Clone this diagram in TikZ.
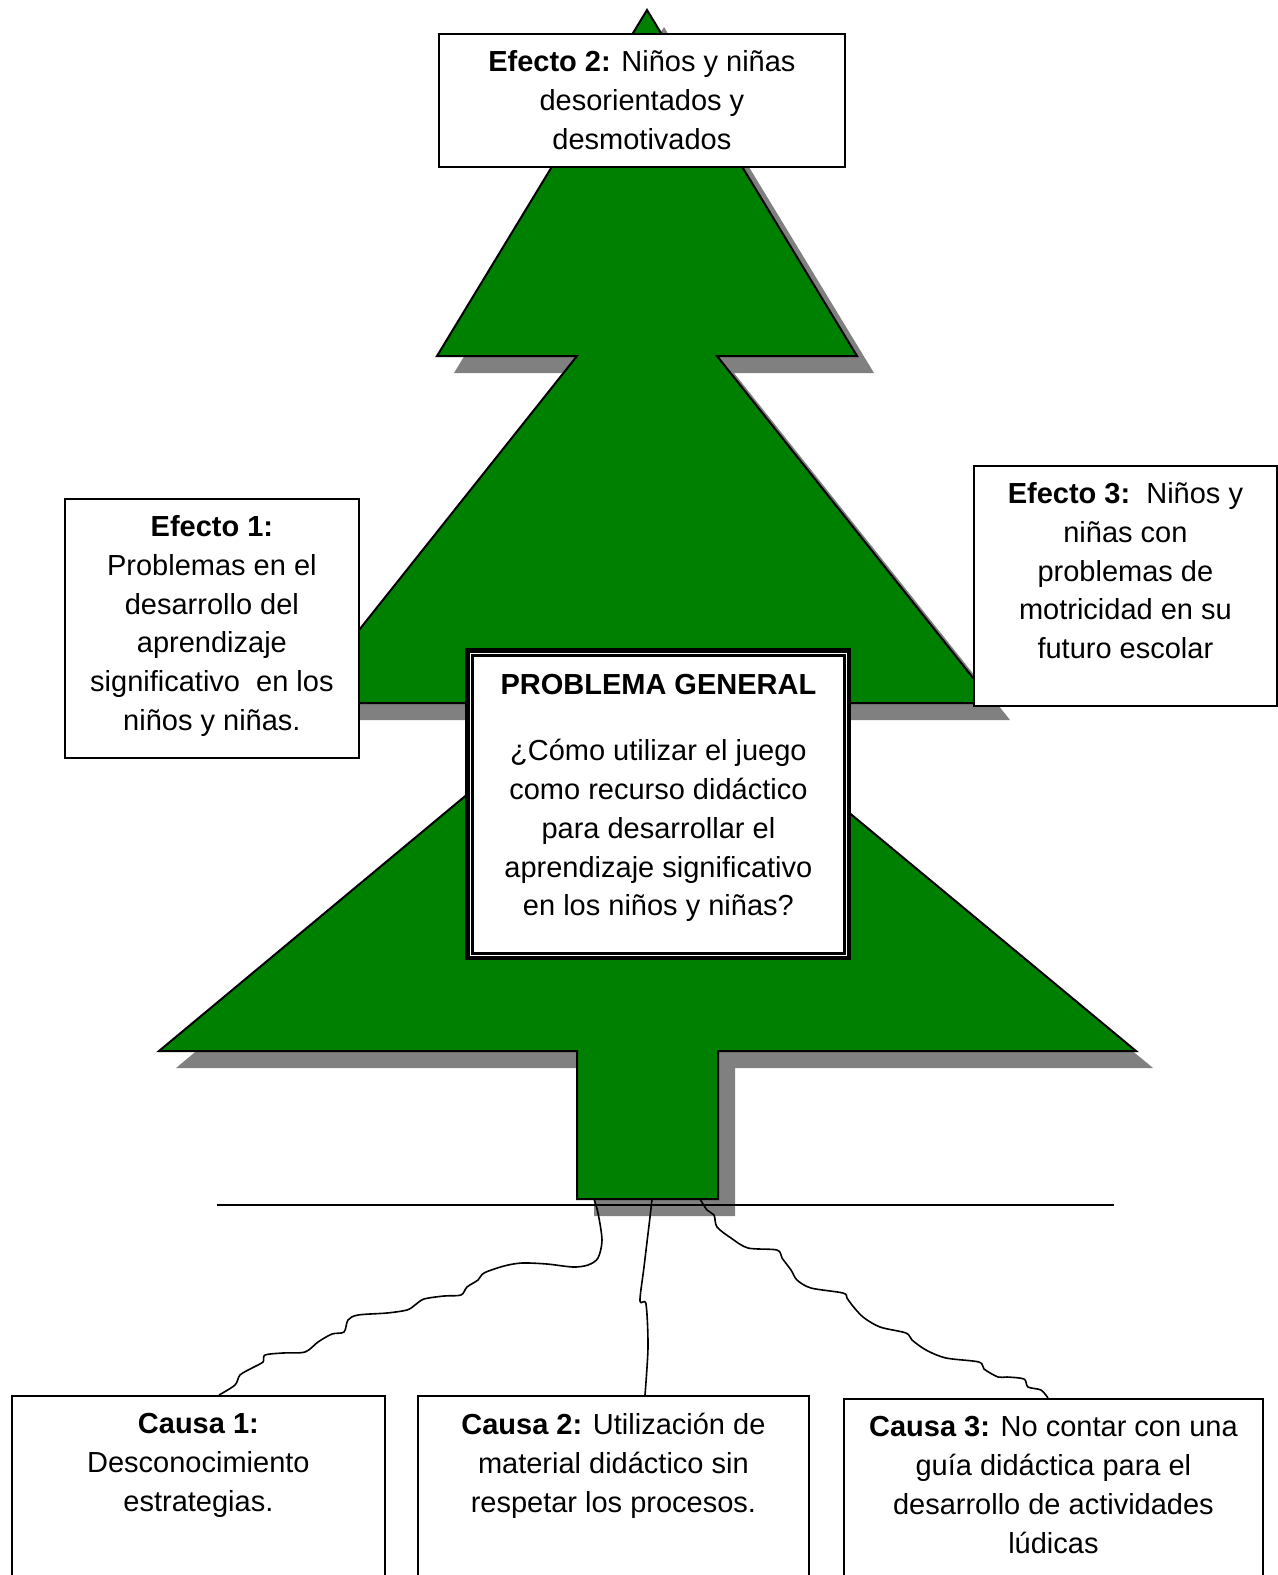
\documentclass[tikz,border=0pt]{standalone}
\usepackage{fontspec}
\setmainfont{Liberation Sans}
\usetikzlibrary{calc}
\definecolor{treegreen}{RGB}{0,128,0}
\definecolor{treeshade}{RGB}{128,128,128}

\def\treepath{(647,10) -- (857,356) -- (717,356) -- (993,703) -- (717,703) -- (1136,1051) -- (718,1051) -- (718,1199) -- (577,1199) -- (577,1051) -- (159,1051) -- (577,703) -- (301,703) -- (577,356) -- (437,356) -- cycle}

\begin{document}
\begin{tikzpicture}[
        x=0.5pt, y=-0.5pt,
        box/.style={draw=black, fill=white, line width=0.9pt, inner sep=0pt, anchor=north west},
        txt/.style={align=center, inner sep=0pt, anchor=north, font=\fontsize{14.5}{19.4}\selectfont},
        root/.style={line width=0.8pt, line join=round},
    ]
    \clip (0,0) rectangle (1278,1575);
    \fill[white] (0,0) rectangle (1278,1575);

    \fill[treeshade, shift={(17,17)}] \treepath;
    \draw[fill=treegreen, line width=1pt] \treepath;
    \coordinate (trunk sw) at (577,1199);
    \coordinate (trunk se) at (718,1199);

    \coordinate (ground w) at (217,1205);
    \coordinate (ground e) at (1114,1205);
    \draw[line width=1pt] (ground w) -- (ground e);

    % effects
    \node[box, minimum width=203pt, minimum height=66.5pt] (efecto2) at (438,33) {};
    \node[txt] (efecto2 txt) at ([yshift=-8.5pt]efecto2.north)
        {\textbf{Efecto 2:} Niños y niñas\\desorientados y\\desmotivados};
    \node[box, minimum width=147pt, minimum height=129.5pt] (efecto1) at (64,498) {};
    \node[txt] (efecto1 txt) at ([yshift=-8.5pt]efecto1.north)
        {\textbf{Efecto 1:}\\Problemas en el\\desarrollo del\\aprendizaje\\significativo\ \ en los\\niños y niñas.};
    \node[box, minimum width=151.5pt, minimum height=120pt] (efecto3) at (973,465) {};
    \node[txt] (efecto3 txt) at ([yshift=-8.5pt]efecto3.north)
        {\textbf{Efecto 3:}\ \ Niños y\\niñas con\\problemas de\\motricidad en su\\futuro escolar};

    % general problem, thick-thin frame
    \node[box, line width=2.4pt, minimum width=190.6pt, minimum height=153.6pt] (problema) at (465.4,648.4) {};
    \draw[line width=1.2pt] ([shift={(7,7)}]problema.north west) rectangle ([shift={(-7,-7)}]problema.south east);
    \node[txt] (problema txt) at ([yshift=-12.75pt]problema.north)
        {\textbf{PROBLEMA GENERAL}\\[13.7pt]¿Cómo utilizar el juego\\como recurso didáctico\\para desarrollar el\\aprendizaje significativo\\en los niños y niñas?};

    % causes
    \node[box, minimum width=186.5pt, minimum height=150pt] (causa1) at (11,1395) {};
    \node[txt] (causa1 txt) at ([yshift=-9pt]causa1.north)
        {\textbf{Causa 1:}\\Desconocimiento\\estrategias.};
    \node[box, minimum width=195.5pt, minimum height=150pt] (causa2) at (417,1395) {};
    \node[txt] (causa2 txt) at ([yshift=-9pt]causa2.north)
        {\textbf{Causa 2:} Utilización de\\material didáctico sin\\respetar los procesos.};
    \node[box, minimum width=209.5pt, minimum height=150pt] (causa3) at (843,1398) {};
    \node[txt] (causa3 txt) at ([yshift=-9pt]causa3.north)
        {\textbf{Causa 3:} No contar con una\\guía didáctica para el\\desarrollo de actividades\\lúdicas};

    % roots
    \coordinate (root1) at ([xshift=104pt]causa1.north west);
    \coordinate (root2) at ([xshift=114pt]causa2.north west);
    \coordinate (root3) at ([xshift=102.5pt]causa3.north west);
    \draw[root] plot[smooth, tension=.5] coordinates {([xshift=8.5pt]trunk sw) (598,1213) (602,1240) (598,1258) (588,1265) (573,1267) (547,1264) (522,1263) (504,1266) (484,1273) (478,1280) (467,1287) (461,1295) (444,1296) (424,1299) (415,1305) (407,1310) (387,1313) (358,1315) (348,1320) (344,1332) (332,1334) (318,1342) (305,1352) (283,1353) (265,1355) (263,1362) (252,1368) (240,1375) (235,1385) (root1)};
    \draw[root] plot[smooth, tension=.5] coordinates {([xshift=37.5pt]trunk sw) (650,1217) (644,1267) (640,1301) (646,1304) (648,1347) (root2)};
    \draw[root] plot[smooth, tension=.5] coordinates {([xshift=-9pt]trunk se) (707,1210) (714,1215) (717,1227) (731,1238) (748,1248) (777,1250) (782,1258) (791,1270) (797,1280) (811,1288) (843,1293) (847,1298) (852,1305) (863,1317) (880,1327) (906,1333) (912,1340) (926,1350) (946,1358) (979,1362) (984,1369) (998,1377) (1007,1377) (1024,1379) (1028,1387) (1041,1390) (root3)};
\end{tikzpicture}
\end{document}
